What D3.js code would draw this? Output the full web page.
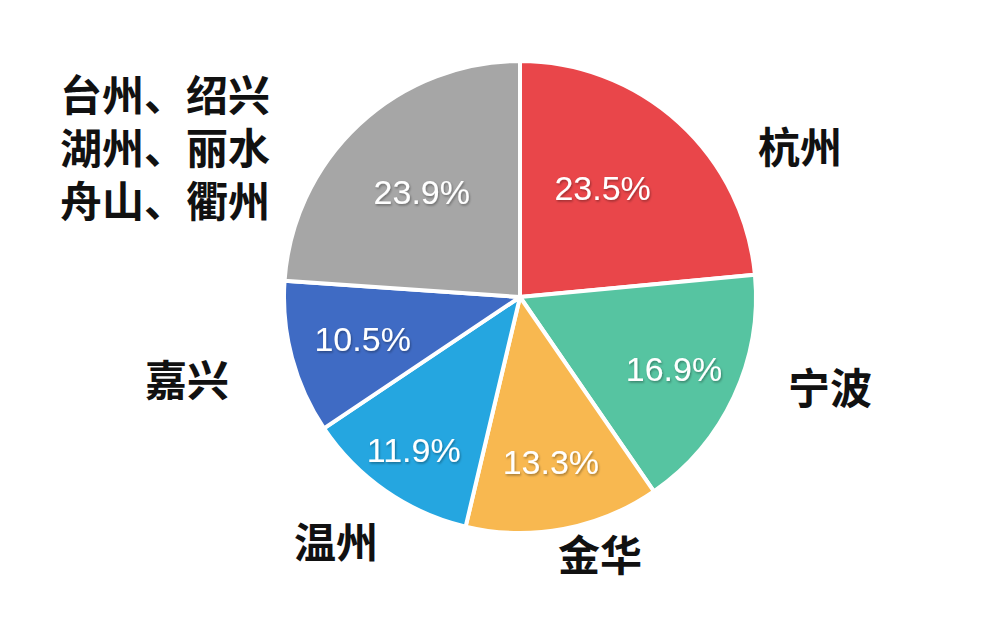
<!DOCTYPE html>
<html>
<head>
<meta charset="utf-8">
<script src="https://cdn.jsdelivr.net/npm/d3@7"></script>
<style>
  html, body { margin: 0; padding: 0; background: #fff; }
  svg { display: block; }
</style>
</head>
<body>
<svg id="chart" width="1000" height="634"></svg>
<script>
// ---- data ----
const categories = ["杭州", "宁波", "金华", "温州", "嘉兴", "台州、绍兴\n湖州、丽水\n舟山、衢州"];
const values = [23.5, 16.9, 13.3, 11.9, 10.5, 23.9];
const colors = ["#E9464A", "#56C4A1", "#F8B850", "#25A6E0", "#3F6BC4", "#A6A6A6"];

// ---- layout (not data) ----
const cx = 520, cy = 297, R = 236;
const pctLabelR = [0.58, 0.72, 0.71, 0.79, 0.69, 0.61];
const pctAngleShift = [-0.09, 0, 0, 0, 0, 0];
const nameOffsets = [[280, -149], [310, 92], [80, 259], [-184, 246], [-333, 84], [-355, -148]];

const svg = d3.select("#chart");
const defs = svg.append("defs");
const f = defs.append("filter").attr("id", "tshadow").attr("x", "-20%").attr("y", "-20%").attr("width", "140%").attr("height", "140%");
f.append("feDropShadow").attr("dx", 1).attr("dy", 1.5).attr("stdDeviation", 1).attr("flood-color", "#000").attr("flood-opacity", 0.35);

const pie = d3.pie().sort(null).value(d => d)(values);
const arc = d3.arc().innerRadius(0).outerRadius(R);

const g = svg.append("g").attr("transform", `translate(${cx},${cy})`);

g.selectAll("path.slice")
  .data(pie)
  .join("path")
  .attr("class", "slice")
  .attr("d", arc)
  .attr("fill", (d, i) => colors[i])
  .attr("stroke", "#fff")
  .attr("stroke-width", 4)
  .attr("stroke-linejoin", "round");

// percentage labels
g.selectAll("text.pct")
  .data(pie)
  .join("text")
  .attr("class", "pct")
  .attr("transform", (d, i) => {
    const a = (d.startAngle + d.endAngle) / 2 + pctAngleShift[i];
    const r = R * pctLabelR[i];
    return `translate(${r * Math.sin(a)},${-r * Math.cos(a)})`;
  })
  .attr("text-anchor", "middle")
  .attr("dy", "0.36em")
  .attr("font-family", "Arial, 'Liberation Sans', sans-serif")
  .attr("font-size", 34)
  .attr("fill", "#fff")
  .attr("filter", "url(#tshadow)")
  .text(d => d.value.toFixed(1) + "%");

// category labels
const names = g.selectAll("text.name")
  .data(categories)
  .join("text")
  .attr("class", "name")
  .attr("transform", (d, i) => `translate(${nameOffsets[i][0]},${nameOffsets[i][1]})`)
  .attr("text-anchor", "middle")
  .attr("font-family", "'Noto Sans CJK SC', sans-serif")
  .attr("font-weight", "bold")
  .attr("font-size", 42)
  .attr("fill", "#111");

names.each(function(d) {
  const lines = d.split("\n");
  const t = d3.select(this);
  const lh = 53;
  const off = -(lines.length - 1) / 2 * lh;
  lines.forEach((ln, k) => {
    t.append("tspan")
      .attr("x", 0)
      .attr("y", off + k * lh)
      .attr("dy", "0.36em")
      .text(ln);
  });
});
</script>
</body>
</html>
